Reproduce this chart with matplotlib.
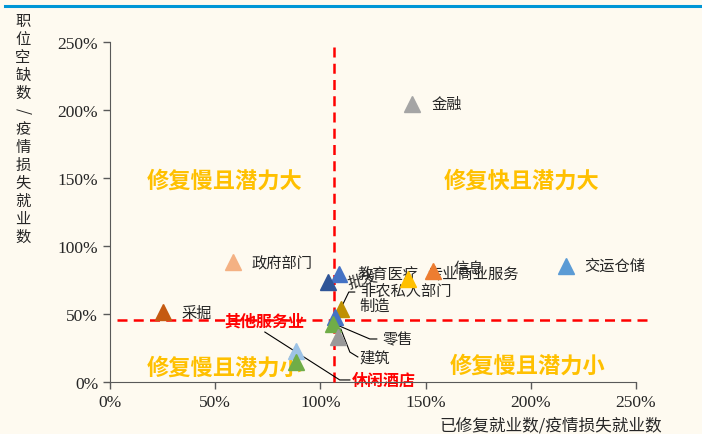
import matplotlib
matplotlib.use("Agg")
import matplotlib.pyplot as plt

plt.rcParams['font.family'] = ['Noto Sans CJK SC', 'DejaVu Sans']

# data: 已修复就业数/疫情损失就业数 (x, %) and 职位空缺数/疫情损失就业数 (y, %)
names = ["采掘", "政府部门", "金融", "交运仓储", "信息", "专业商业服务", "教育医疗",
         "批发", "制造", "非农私人部门", "零售", "建筑", "休闲酒店", "其他服务业"]
x_vals = [25.2, 58.4, 143.7, 216.5, 153.4, 141.5, 108.9,
          103.7, 110.0, 106.8, 106.0, 108.4, 88.3, 88.3]
y_vals = [51.4, 88.1, 204.0, 85.4, 81.7, 76.0, 79.3,
          73.6, 53.6, 47.5, 42.6, 32.8, 23.0, 14.9]
colors = ["#C55A11", "#F4B183", "#A5A5A5", "#5B9BD5", "#ED7D31", "#FFC000", "#4472C4",
          "#2F5597", "#BF9000", "#4472C4", "#70AD47", "#999999", "#9DC3E6", "#70AD47"]

# reference lines
x_ref = 106.4
y_ref = 45.5

ticks = [0, 50, 100, 150, 200, 250]
tick_labels = ["0%", "50%", "100%", "150%", "200%", "250%"]

quad_texts = ["修复慢且潜力大", "修复快且潜力大", "修复慢且潜力小", "修复慢且潜力小"]
quad_pos = [(54.6, 148.5), (195.5, 148.5), (54.6, 11.0), (198.5, 12.5)]

# label anchors (left edge, vertical centre) in data units
label_pos = {
    "采掘": (34.2, 51.4), "政府部门": (67.4, 87.4), "金融": (152.9, 204.3),
    "交运仓储": (225.5, 85.7), "信息": (163.4, 84.4), "专业商业服务": (150.5, 80.0),
    "教育医疗": (117.8, 80.0), "制造": (118.7, 56.2),
    "非农私人部门": (118.7, 67.3), "零售": (129.6, 31.6), "建筑": (118.7, 18.0),
}
red_labels = {"其他服务业": (54.6, 45.2), "休闲酒店": (114.8, 1.8)}

# leader lines
leaders = [
    [(116.3, 66.1), (113.5, 66.1), (106.8, 44.8)],
    [(106.8, 42.6), (123.5, 31.6), (126.8, 31.6)],
    [(109.7, 38.9), (114.0, 22.0), (117.8, 18.4)],
    [(73.6, 36.7), (109.2, 1.5), (114.0, 1.5)],
]

bg = "#FEFAF0"
fig = plt.figure(figsize=(7.02, 4.35), dpi=100, facecolor=bg)
ax = fig.add_axes([110 / 702, 1 - 383 / 435, 526 / 702, (383 - 42.7) / 435])
ax.set_facecolor(bg)

for xv, yv, c in zip(x_vals, y_vals, colors):
    ax.plot(xv, yv, marker="^", ms=12, color=c, mec=c, ls="none", zorder=5, clip_on=False)

ax.plot([x_ref, x_ref], [0, 248], color="#FF0000", lw=1.8, dashes=(4, 2.5), zorder=3, clip_on=False)
ax.plot([3.3, 255.5], [y_ref, y_ref], color="#FF0000", lw=1.8, dashes=(4, 2.5), zorder=3, clip_on=False)

for pts in leaders:
    ax.plot([p[0] for p in pts], [p[1] for p in pts], color="black", lw=0.8, zorder=4, clip_on=False)

for name, (lx, ly) in label_pos.items():
    ax.text(lx, ly, name, fontsize=11, color="#262626", ha="left", va="center", zorder=4)
# 批发 is tilted in the original
ax.text(113.0, 72.0, "批发", fontsize=11, color="#262626", ha="left", va="center",
        rotation=15, rotation_mode="anchor", zorder=6)
for name, (lx, ly) in red_labels.items():
    ax.text(lx, ly, name, fontsize=11.5, color="#FF0000", fontweight="bold",
            ha="left", va="center", zorder=2)

for t, (qx, qy) in zip(quad_texts, quad_pos):
    ax.text(qx, qy, t, fontsize=16, color="#FFC000", fontweight="bold", ha="center", va="center")

ax.set_xlim(0, 250)
ax.set_ylim(0, 250)
ax.set_xticks(ticks)
ax.set_yticks(ticks)
ax.set_xticklabels(tick_labels, fontfamily="Liberation Serif", fontsize=12.5)
ax.set_yticklabels(tick_labels, fontfamily="Liberation Serif", fontsize=12.5)
ax.tick_params(colors="#595959", labelcolor="#262626", length=5, width=1, direction="out")
for s in ["top", "right"]:
    ax.spines[s].set_visible(False)
for s in ["left", "bottom"]:
    ax.spines[s].set_color("#595959")

fig.text(662 / 702, 1 - 426 / 435, "已修复就业数/疫情损失就业数", fontsize=12, color="#262626",
         ha="right", va="center")

ylab = "职位空缺数/疫情损失就业数"
for i, ch in enumerate(ylab):
    fig.text(23 / 702, 1 - (21.5 + 18 * i) / 435, ch, fontsize=11, color="#262626",
             ha="center", va="center", rotation=-90 if ch == "/" else 0)

# blue band at top
fig.add_artist(plt.Line2D([5 / 702, 1.0], [1 - 6.5 / 435, 1 - 6.5 / 435], color="#0096D6", lw=2.2))

fig.savefig("out.png", dpi=100, facecolor=bg)
